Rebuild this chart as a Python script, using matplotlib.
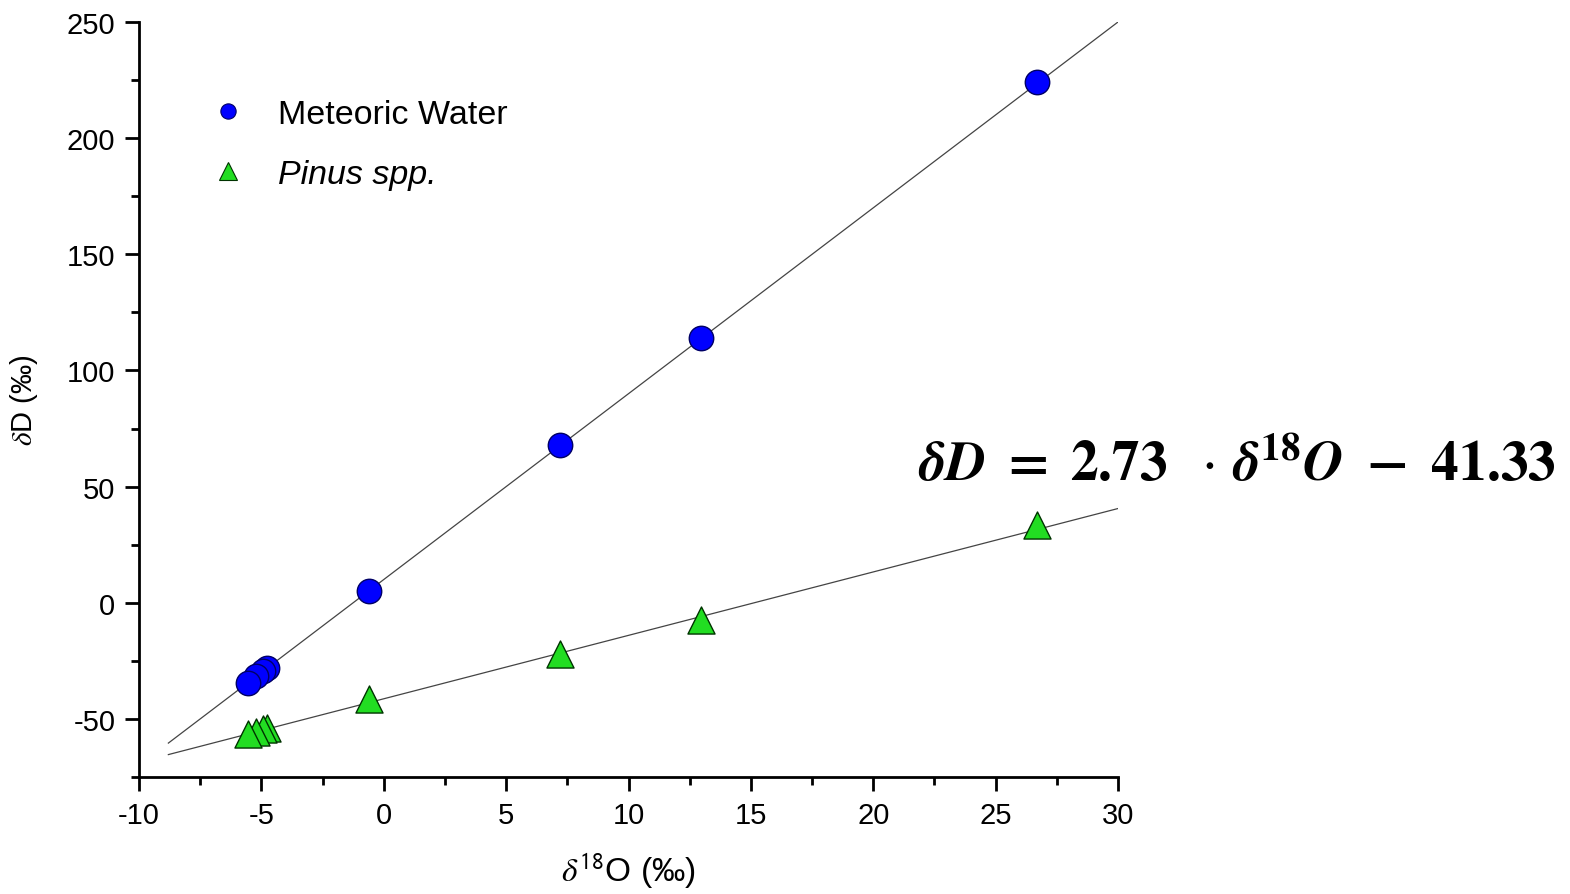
import numpy as np
import matplotlib
matplotlib.use("Agg")
import matplotlib.pyplot as plt
from matplotlib.lines import Line2D
from matplotlib.ticker import MultipleLocator

plt.rcParams['font.family'] = ['Liberation Sans', 'DejaVu Sans']
plt.rcParams['mathtext.fontset'] = 'stix'
plt.rcParams['axes.unicode_minus'] = False

# data
d18O = [26.7, 12.95, 7.2, -0.6, -4.75, -4.95, -5.2, -5.55]
dD_meteoric = [224.0, 114.0, 68.0, 5.0, -28.0, -29.5, -31.5, -34.5]
dD_pinus = [33.5, -7.5, -22.0, -41.5, -54.0, -54.5, -55.5, -56.5]
fit_range = [-8.8, 30.0]
fit_slopes = [8.0, 2.73]
fit_intercepts = [10.0, -41.33]
series_names = ["Meteoric Water", "Pinus spp."]
xticks = [-10, -5, 0, 5, 10, 15, 20, 25, 30]
yticks = [-50, 0, 50, 100, 150, 200, 250]

fig = plt.figure(figsize=(15.7, 8.95), dpi=100)
ax = fig.add_axes([139/1570, (895-778)/895, (1118-139)/1570, (778-23)/895])

fx = np.array(fit_range)
for s, b in zip(fit_slopes, fit_intercepts):
    ax.plot(fx, s*fx + b, color='#444444', lw=0.9, zorder=1)

ax.scatter(d18O, dD_meteoric, s=310, marker='o', facecolor='#0000ff',
           edgecolor='#000066', linewidth=1.0, zorder=3)
ax.scatter(d18O, dD_pinus, s=380, marker='^', facecolor='#22dd22',
           edgecolor='#003300', linewidth=1.0, zorder=3)

ax.set_xlim(-10, 30)
ax.set_ylim(-75, 250)
ax.set_xticks(xticks)
ax.set_yticks(yticks)
ax.xaxis.set_minor_locator(MultipleLocator(2.5))
ax.yaxis.set_minor_locator(MultipleLocator(25))
for sp in ['top', 'right']:
    ax.spines[sp].set_visible(False)
for sp in ['left', 'bottom']:
    ax.spines[sp].set_linewidth(2.0)
ax.tick_params(which='major', direction='out', length=10, width=2.0,
               labelsize=21, pad=7)
ax.tick_params(which='minor', direction='out', length=6, width=2.0)

ax.set_ylabel(r'$\delta$D (‰)', fontsize=21, labelpad=19)
ax.set_xlabel(r'$\delta^{\mathsf{18}}$O (‰)', fontsize=24, labelpad=16)

handles = [
    Line2D([], [], ls='none', marker='o', markersize=11, markerfacecolor='#0000ff',
           markeredgecolor='#000066', markeredgewidth=0.8),
    Line2D([], [], ls='none', marker='^', markersize=13, markerfacecolor='#22dd22',
           markeredgecolor='#003300', markeredgewidth=0.8),
]
leg = ax.legend(handles, series_names, loc='upper left', bbox_to_anchor=(0.034, 0.939),
                frameon=False, fontsize=24.5, handletextpad=0.7, labelspacing=0.85,
                handlelength=1.5)
leg.get_texts()[1].set_fontstyle('italic')

fig.text(918/1570, 1 - 466/895,
         r'$\mathbfit{\delta D}\mathbf{\ =\ 2.73}\ \ \cdot\,\mathbfit{\delta}^{\mathbf{18}}\mathbfit{O}\ \;\mathbf{-}\;\;\mathbf{41.33}$',
         fontsize=40, ha='left', va='center')

fig.savefig('out.png', dpi=100)
